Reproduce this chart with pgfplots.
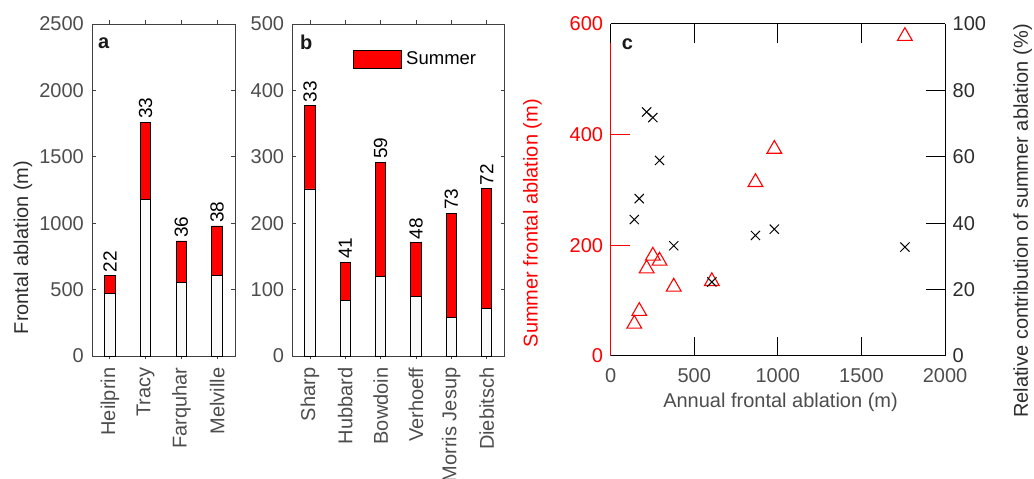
\documentclass[border=0pt]{standalone}
\usepackage{pgfplots}
\pgfplotsset{compat=1.18}
\usepackage{fontspec}
\setmainfont{Liberation Sans}
\definecolor{axgray}{RGB}{64,64,64}
\definecolor{txtgray}{RGB}{77,77,77}
\definecolor{lblgray}{RGB}{45,45,45}
\definecolor{barwhite}{RGB}{250,250,250}
\newcommand{\fs}{\fontsize{20bp}{24bp}\selectfont}
\newcommand{\fsb}{\fontsize{19bp}{22bp}\selectfont}
\newcommand{\fsl}{\fontsize{18.5bp}{22bp}\selectfont}
\pgfplotsset{
  common/.style={
    scale only axis,
    /pgf/number format/assume math mode=true,
    /pgf/number format/1000 sep={},
    tick label style={font=\fs},
    tick align=inside,
    clip=false,
  },
  barax/.style={
    common,
    ybar, bar width=10.5bp, bar shift=0pt,
    ymin=0,
    axis line style={axgray, line width=0.8bp},
    major tick length=3.5bp,
    tick style={axgray, line width=0.8bp},
    xticklabel style={rotate=90, anchor=east, text=txtgray, inner sep=0pt},
    xticklabel shift=8bp,
    yticklabel style={text=txtgray, inner sep=0pt},
    yticklabel shift=8bp,
  },
  redbar/.style={fill=red, draw=black, line width=0.8bp,
    nodes near coords, point meta=explicit symbolic,
    every node near coord/.append style={rotate=90, anchor=west, font=\fsb, text=black, inner sep=3bp}},
  whitebar/.style={fill=barwhite, draw=black, line width=0.8bp},
}
\begin{document}
\begin{tikzpicture}[x=1bp,y=1bp]
% ---------------- panel a
\begin{axis}[barax, at={(92bp,123bp)}, anchor=south west,
  width=143bp, height=332bp,
  xmin=0.5, xmax=4.5, ymax=2500,
  ytick={0,500,1000,1500,2000,2500},
  xtick={1,2,3,4}, xticklabels={Heilprin,Tracy,Farquhar,Melville}]
\addplot[redbar] coordinates {(1,605)[22] (2,1760)[33] (3,866)[36] (4,979)[38]};
\addplot[whitebar] coordinates {(1,470) (2,1182) (3,552) (4,605)};
\node[anchor=base west, inner sep=0pt, font=\bfseries\fs, text=black!90] at (axis description cs:0.042,0.927) {a};
\node[rotate=90, font=\fs, text=lblgray] at (axis description cs:-0.483,0.327) {Frontal ablation (m)};
\end{axis}
% ---------------- panel b
\begin{axis}[barax, at={(292.3bp,123bp)}, anchor=south west,
  width=212bp, height=332bp,
  xmin=0.5, xmax=6.5, ymax=500,
  ytick={0,100,200,300,400,500},
  xtick={1,2,3,4,5,6}, xticklabels={Sharp,Hubbard,Bowdoin,Verhoeff,Morris Jesup,Diebitsch},
  legend style={at={(axis description cs:0.285,0.8946)}, anchor=west, draw=none, fill=none,
    inner sep=0pt, font=\fsl, legend cell align=left,
    nodes={inner sep=2.5bp}},
  legend image code/.code={\draw[fill=red,draw=black,line width=0.8bp] (0bp,-9bp) rectangle (48bp,9bp);}]
\addplot[redbar] coordinates {(1,377)[33] (2,141)[41] (3,292)[59] (4,171)[48] (5,215)[73] (6,252)[72]};
\addplot[whitebar] coordinates {(1,251.5) (2,83) (3,120) (4,89.5) (5,57.5) (6,71)};
\legend{\hspace{2bp}Summer}
\node[anchor=base west, inner sep=0pt, font=\bfseries\fs, text=black!90] at (axis description cs:0.036,0.924) {b};
\end{axis}
% ---------------- panel c (left axis, red)
\begin{axis}[common, at={(610.7bp,123bp)}, anchor=south west,
  width=334.3bp, height=332bp,
  xmin=0, xmax=2000, ymin=0, ymax=600,
  axis x line*=bottom, axis y line*=left,
  xtick={0,500,1000,1500,2000}, ytick={0,200,400,600},
  major tick length=19bp,
  x axis line style={black, line width=1bp},
  y axis line style={red, line width=1bp},
  xtick style={black, line width=1bp},
  ytick style={red, line width=1bp},
  yticklabel style={text=red, inner sep=0pt}, yticklabel shift=7.5bp,
  xticklabel style={text=txtgray, inner sep=0pt}, xticklabel shift=12bp]
\addplot[only marks, mark=triangle, mark size=8.5bp, red, mark options={line width=1.1bp}]
  coordinates {(605,135) (1760,578) (866,314) (979,374) (377,125) (141,58) (292,172) (171,81) (215,158) (252,181)};
\node[anchor=base west, inner sep=0pt, font=\bfseries\fs, text=black!90] at (axis description cs:0.033,0.924) {c};
\node[rotate=90, font=\fs, text=red] at (axis description cs:-0.234,0.40) {Summer frontal ablation (m)};
\node[font=\fs, text=txtgray] at (axis description cs:0.508,-0.1407) {Annual frontal ablation (m)};
\end{axis}
% ---------------- panel c (right axis)
\begin{axis}[common, at={(610.7bp,123bp)}, anchor=south west,
  width=334.3bp, height=332bp,
  xmin=0, xmax=2000, ymin=0, ymax=100,
  axis x line*=top, axis y line*=right,
  xtick={0,500,1000,1500,2000}, xticklabels={},
  ytick={0,20,40,60,80,100},
  major tick length=19bp,
  axis line style={black, line width=1bp},
  tick style={black, line width=1bp},
  yticklabel style={text=lblgray, inner sep=0pt}, yticklabel shift=7.5bp]
\addplot[only marks, mark=x, mark size=6.5bp, black, mark options={line width=1bp}]
  coordinates {(605,22.3) (1760,32.8) (866,36.3) (979,38.2) (377,33.2) (141,41.1) (292,58.9) (171,47.4) (215,73.5) (252,71.8)};
\node[rotate=90, font=\fs, text=lblgray] at (axis description cs:1.232,0.4066) {Relative contribution of summer ablation (\%)};
\end{axis}
\pgfresetboundingbox
\path[use as bounding box] (0,0) rectangle (1034,479);
\end{tikzpicture}
\end{document}
